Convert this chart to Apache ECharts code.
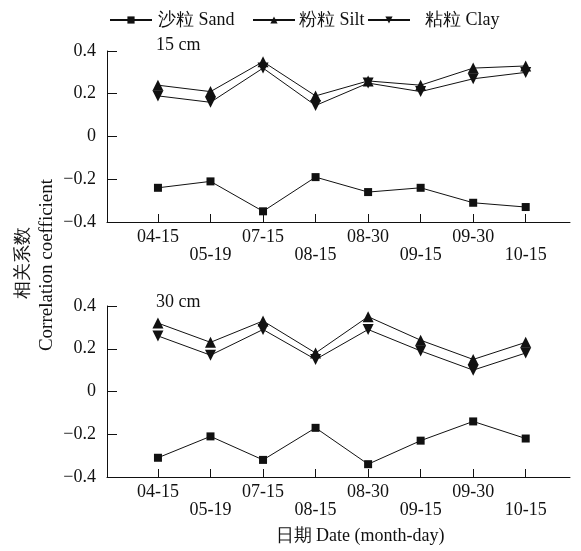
<!DOCTYPE html>
<html>
<head>
<meta charset="utf-8">
<script src="https://cdn.jsdelivr.net/npm/echarts@6/dist/echarts.min.js"></script>
<style>html,body{margin:0;padding:0;background:#fff;}#c{width:581px;height:551px;}</style>
</head>
<body>
<div id="c"></div>
<script>
const dates = ['04-15','05-19','07-15','08-15','08-30','09-15','09-30','10-15'];
const sand15 = [-0.24,-0.21,-0.35,-0.19,-0.26,-0.24,-0.31,-0.33];
const silt15 = [0.24,0.21,0.35,0.19,0.26,0.24,0.32,0.33];
const clay15 = [0.19,0.16,0.32,0.145,0.25,0.21,0.27,0.30];
const sand30 = [-0.31,-0.21,-0.32,-0.17,-0.34,-0.23,-0.14,-0.22];
const silt30 = [0.32,0.23,0.33,0.18,0.35,0.24,0.15,0.23];
const clay30 = [0.26,0.17,0.29,0.15,0.29,0.19,0.10,0.18];
const yTicks = [-0.4,-0.2,0,0.2,0.4];
const names = ['沙粒 Sand','粉粒 Silt','粘粒 Clay'];

const FONT = "Liberation Serif";
const INK = '#111';
const pos = dates.map((d,i)=>i+1);
const toPts = arr => arr.map((v,i)=>[pos[i], v]);

function xAxis(gi){
  return {
    type:'value', gridIndex:gi, min:0.03, max:8.843,
    axisLine:{onZero:false,lineStyle:{color:INK,width:1}},
    axisTick:{inside:true,length:8,customValues:pos,lineStyle:{color:INK}},
    splitLine:{show:false},
    axisLabel:{
      customValues:pos, color:INK, fontFamily:FONT, fontSize:18, lineHeight:18, margin:6,
      formatter:function(v){const i=Math.round(v)-1; if(i<0||i>=dates.length) return ''; return i%2===0?dates[i]:'\n'+dates[i];}
    }
  };
}
function yAxis(gi){
  return {
    type:'value', gridIndex:gi, min:yTicks[0], max:yTicks[yTicks.length-1], interval:0.2,
    axisLine:{show:true,lineStyle:{color:INK,width:1}},
    axisTick:{show:true,inside:true,length:10,lineStyle:{color:INK}},
    splitLine:{show:false},
    axisLabel:{color:INK,fontFamily:FONT,fontSize:18,margin:11,
      formatter:function(v){ if(Math.abs(v)<1e-9) return '0'; return v.toFixed(1).replace('-','\u2212'); }}
  };
}
function ser(name, data, gi, symbol, rotate, size){
  return {
    name:name, type:'line', xAxisIndex:gi, yAxisIndex:gi, data:toPts(data),
    symbol:symbol, symbolSize:size, symbolRotate:rotate, showSymbol:true,
    lineStyle:{color:INK,width:1}, itemStyle:{color:INK},
    emphasis:{disabled:true}, animation:false
  };
}
function legend(name, left, pad){
  return {
    data:[name],
    left:left, top:6, itemWidth:42, itemHeight:9, itemGap:0,
    textStyle:{fontFamily:FONT,fontSize:18,color:INK,padding:[0,0,0,pad]},
    selectedMode:false
  };
}

const chart = echarts.init(document.getElementById('c'));
chart.setOption({
  animation:false,
  backgroundColor:'#fff',
  legend:[legend(names[0],104,1), legend(names[1],247,-1), legend(names[2],362,10)],
  grid:[
    {left:107,right:11,top:51,height:171},
    {left:107,right:11,top:306,height:171}
  ],
  xAxis:[xAxis(0),xAxis(1)],
  yAxis:[yAxis(0),yAxis(1)],
  series:[
    ser(names[0],sand15,0,'rect',0,8),
    ser(names[1],silt15,0,'triangle',0,11),
    ser(names[2],clay15,0,'triangle',180,11),
    ser(names[0],sand30,1,'rect',0,8),
    ser(names[1],silt30,1,'triangle',0,11),
    ser(names[2],clay30,1,'triangle',180,11)
  ],
  graphic:[
    {type:'text',left:156,top:36,style:{text:'15 cm',font:"18px "+FONT,fill:INK}},
    {type:'text',left:156,top:293,style:{text:'30 cm',font:"18px "+FONT,fill:INK}},
    {type:'text',x:360,y:536,style:{text:'日期 Date (month-day)',font:"18px "+FONT,fill:INK,align:'center',verticalAlign:'middle'}},
    {type:'text',x:23,y:263,rotation:Math.PI/2,style:{text:'相关系数',font:"18px "+FONT,fill:INK,align:'center',verticalAlign:'middle'}},
    {type:'text',x:47,y:265,rotation:Math.PI/2,style:{text:'Correlation coefficient',font:"19px "+FONT,fill:INK,align:'center',verticalAlign:'middle'}}
  ]
});
</script>
</body>
</html>
